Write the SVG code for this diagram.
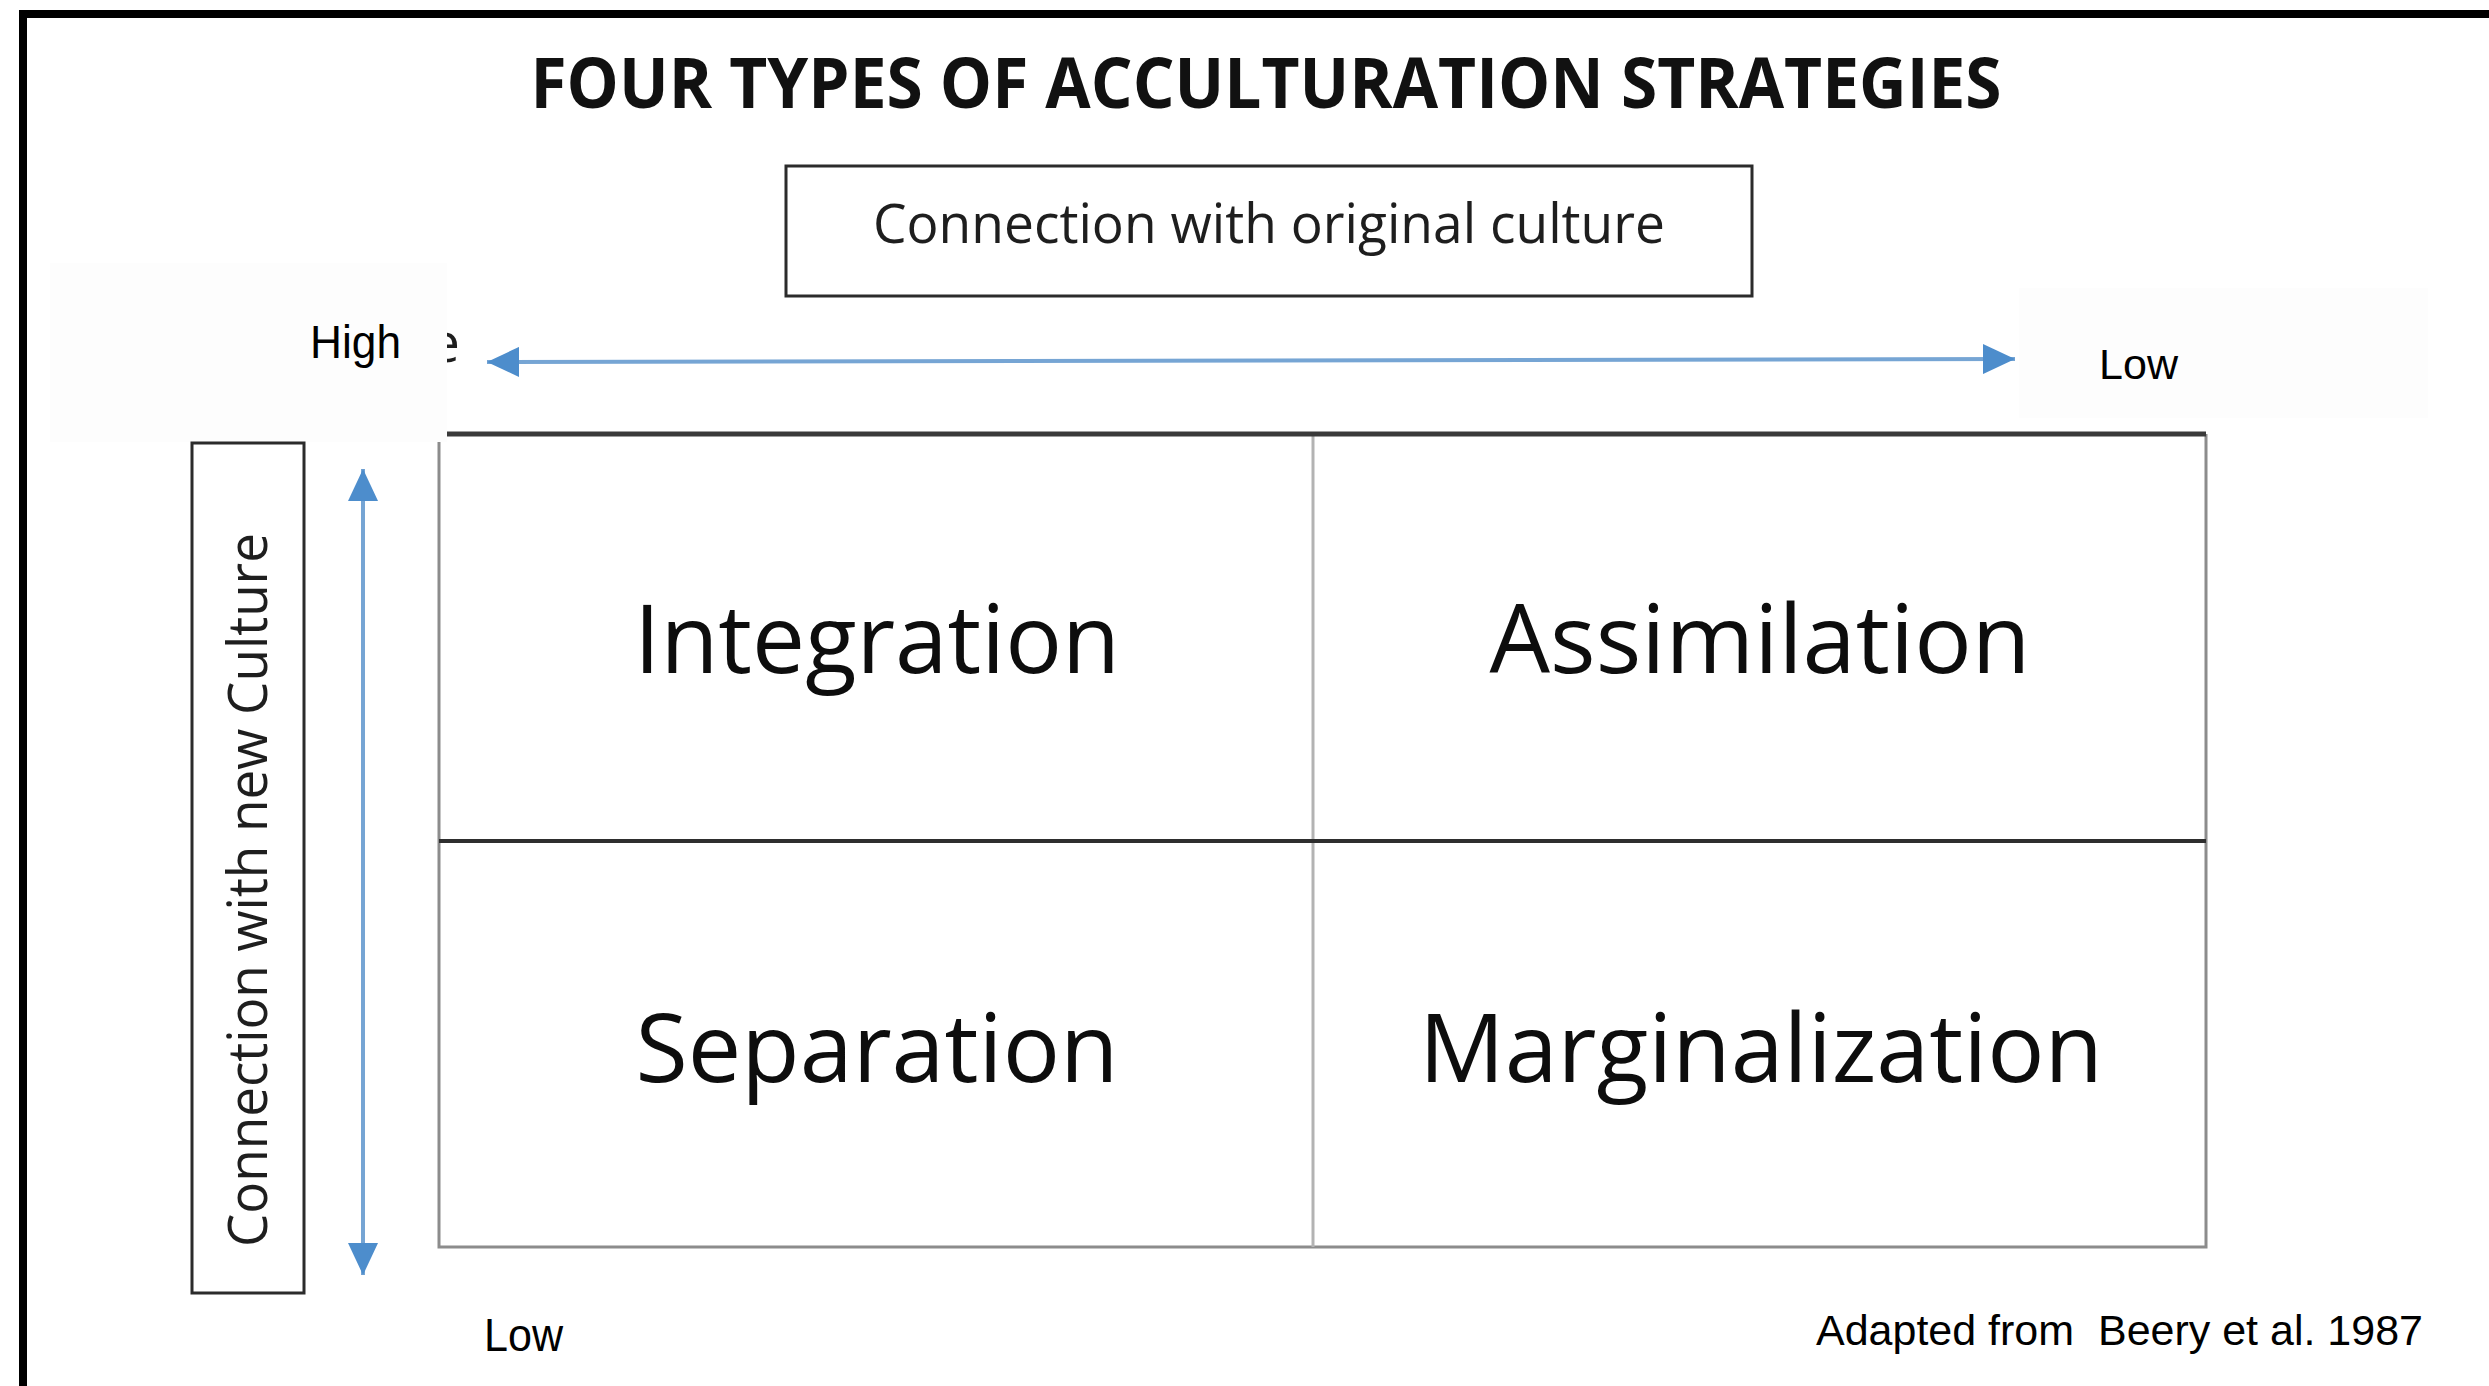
<svg xmlns="http://www.w3.org/2000/svg" width="2489" height="1386" viewBox="0 0 2489 1386">
  <style>
    .frame { stroke: #000; stroke-width: 8; fill: none; }
    .panel { fill: #fdfdfd; stroke: none; }
    .box { fill: #fff; stroke: #2b2b2b; stroke-width: 3; }
    .grid-dark { stroke: #3a3a3a; stroke-width: 5; fill: none; }
    .grid-mid { stroke: #2e2e2e; stroke-width: 4; fill: none; }
    .grid-light { stroke: #8c8c8c; stroke-width: 3; fill: none; }
    .grid-faint { stroke: #b3b3b3; stroke-width: 3; fill: none; }
    .axis { stroke: #76a5d4; stroke-width: 4; fill: none; }
    .title { font-family: "Open Sans", "Liberation Sans", sans-serif; font-weight: 700; font-size: 70px; fill: #111; }
    .label { font-family: "Open Sans", "Liberation Sans", sans-serif; font-size: 55px; fill: #1e1e1e; }
    .cell { font-family: "Open Sans", "Liberation Sans", sans-serif; font-size: 95px; fill: #0d0d0d; }
    .narrow { font-family: "Liberation Sans", Arial, sans-serif; fill: #000; white-space: pre; }
  </style>
  <defs>
    <marker id="head" viewBox="0 0 32 30" refX="32" refY="15" markerWidth="32" markerHeight="30" markerUnits="userSpaceOnUse" orient="auto-start-reverse">
      <path d="M0,0 L32,15 L0,30 Z" fill="#4d8dcc"/>
    </marker>
    <clipPath id="fragClip">
      <rect x="447" y="300" width="40" height="100"/>
    </clipPath>
  </defs>

  <rect x="0" y="0" width="2489" height="1386" fill="#fff"/>

  <!-- page frame: left and top rules -->
  <g id="frame">
    <path class="frame" d="M23,1386 V14 H2489"/>
  </g>

  <!-- title -->
  <g id="title">
    <text class="title" x="1266" y="108" text-anchor="middle" textLength="1471" lengthAdjust="spacingAndGlyphs">FOUR TYPES OF ACCULTURATION STRATEGIES</text>
  </g>

  <!-- horizontal axis label box -->
  <g id="original-culture">
    <rect class="box" x="786" y="166" width="966" height="130"/>
    <text class="label" x="1269" y="243" text-anchor="middle" textLength="792" lengthAdjust="spacingAndGlyphs">Connection with original culture</text>
  </g>

  <!-- 2x2 strategy grid -->
  <g id="grid">
    <rect x="439" y="434" width="1767" height="813" fill="#fff" stroke="none"/>
    <path class="grid-light" d="M439,434 V1247 H2206 V434"/>
    <path class="grid-faint" d="M1313,434 V1247"/>
    <path class="grid-mid" d="M439,841 H2206"/>
    <path class="grid-dark" d="M439,434 H2206"/>
  </g>

  <g id="integration">
    <text class="cell" x="877" y="673" text-anchor="middle" textLength="486" lengthAdjust="spacingAndGlyphs">Integration</text>
  </g>
  <g id="assimilation">
    <text class="cell" x="1760" y="673" text-anchor="middle" textLength="541" lengthAdjust="spacingAndGlyphs">Assimilation</text>
  </g>
  <g id="separation">
    <text class="cell" x="877" y="1082" text-anchor="middle" textLength="483" lengthAdjust="spacingAndGlyphs">Separation</text>
  </g>
  <g id="marginalization">
    <text class="cell" x="1761" y="1082" text-anchor="middle" textLength="684" lengthAdjust="spacingAndGlyphs">Marginalization</text>
  </g>

  <!-- stray glyph edge left of the axis arrow -->
  <g id="fragment" clip-path="url(#fragClip)">
    <text class="label" x="429" y="362" font-size="52" fill="#333">e</text>
  </g>

  <!-- label panels -->
  <g id="high-label">
    <rect class="panel" x="50" y="263" width="397" height="179"/>
    <text class="narrow" x="310" y="358" font-size="46" textLength="91" lengthAdjust="spacingAndGlyphs">High</text>
  </g>
  <g id="low-right-label">
    <rect class="panel" x="2019" y="288" width="409" height="130"/>
    <text class="narrow" x="2099" y="379" font-size="43" textLength="79" lengthAdjust="spacingAndGlyphs">Low</text>
  </g>

  <!-- vertical axis label box -->
  <g id="new-culture">
    <rect class="box" x="192" y="443" width="112" height="850"/>
    <text class="label" transform="translate(267,890) rotate(-90)" x="0" y="0" font-size="52" text-anchor="middle" textLength="714" lengthAdjust="spacingAndGlyphs">Connection with new Culture</text>
  </g>

  <g id="low-bottom-label">
    <text class="narrow" x="484" y="1351" font-size="46" textLength="79" lengthAdjust="spacingAndGlyphs">Low</text>
  </g>

  <g id="source-note">
    <text class="narrow" x="1816" y="1345" font-size="42" textLength="607" lengthAdjust="spacingAndGlyphs" xml:space="preserve">Adapted from  Beery et al. 1987</text>
  </g>

  <!-- axis arrows -->
  <g id="connectors">
    <path class="axis" d="M487,362 L2015,359" marker-start="url(#head)" marker-end="url(#head)"/>
    <path class="axis" d="M363,469 L363,1275" marker-start="url(#head)" marker-end="url(#head)"/>
  </g>
</svg>
